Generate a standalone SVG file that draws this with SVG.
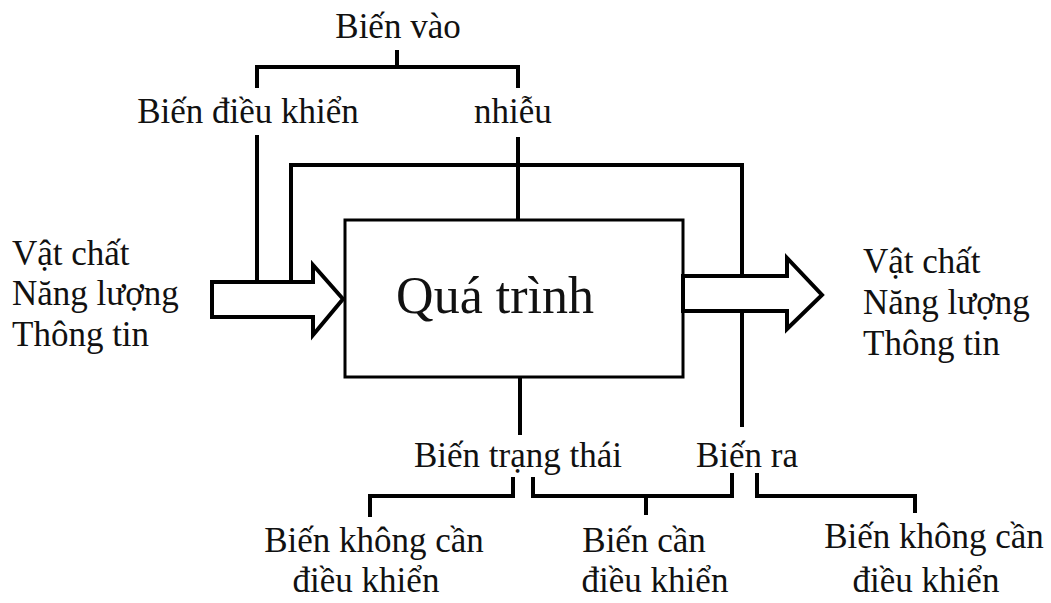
<svg xmlns="http://www.w3.org/2000/svg" width="1051" height="603" viewBox="0 0 1051 603">
<style>
text{font-family:"Liberation Serif","Times New Roman",serif;font-size:35px;fill:#111}
.c{text-anchor:middle}
.ln{fill:none;stroke:#000;stroke-width:4;stroke-linecap:butt;stroke-linejoin:miter}
.box{fill:#fff;stroke:#000;stroke-width:3}
.arr{fill:#fff;stroke:#000;stroke-width:4;stroke-linejoin:miter}
</style>
<rect width="1051" height="603" fill="#fff"/>
<g id="connectors">
<path class="ln" d="M397,50 V67 M257,88 V67 H518 V88"/>
<path class="ln" d="M257,135 V283 M518,137 V220"/>
<path class="ln" d="M291,283 V165 H742 V276 M742,311 V427"/>
<path class="ln" d="M520,378 V435"/>
<path class="ln" d="M513,477 V496 H370 V517"/>
<path class="ln" d="M533,477 V496 H732 V473 M646,496 V515"/>
<path class="ln" d="M757,473 V496 H915 V513"/>
</g>
<g id="process">
<rect class="box" x="345" y="220" width="338" height="157"/>
<text class="c" x="495" y="313" style="font-size:52px">Quá trình</text>
</g>
<g id="input-arrow">
<path class="arr" d="M212,282 H313 V265 L343,299 L313,335 V317 H212 Z"/>
</g>
<g id="output-arrow">
<path class="arr" d="M683,276 H787 V258 L822,295 L787,329 V311 H683 Z"/>
</g>
<g id="input-label">
<text x="12" y="265">Vật chất</text>
<text x="12" y="305">Năng lượng</text>
<text x="12" y="346">Thông tin</text>
</g>
<g id="output-label">
<text x="863" y="273">Vật chất</text>
<text x="863" y="314">Năng lượng</text>
<text x="863" y="355">Thông tin</text>
</g>
<g id="bien-vao"><text class="c" x="398" y="38">Biến vào</text></g>
<g id="bien-dieu-khien"><text class="c" x="248" y="123">Biến điều khiển</text></g>
<g id="nhieu"><text class="c" x="513" y="123">nhiễu</text></g>
<g id="bien-trang-thai"><text class="c" x="518" y="467">Biến trạng thái</text></g>
<g id="bien-ra"><text class="c" x="747" y="467">Biến ra</text></g>
<g id="bien-khong-can-1">
<text class="c" x="374" y="552">Biến không cần</text>
<text class="c" x="366" y="592">điều khiển</text>
</g>
<g id="bien-can">
<text class="c" x="644" y="552">Biến cần</text>
<text class="c" x="655" y="592">điều khiển</text>
</g>
<g id="bien-khong-can-2">
<text class="c" x="934" y="548">Biến không cần</text>
<text class="c" x="926" y="592">điều khiển</text>
</g>
</svg>
